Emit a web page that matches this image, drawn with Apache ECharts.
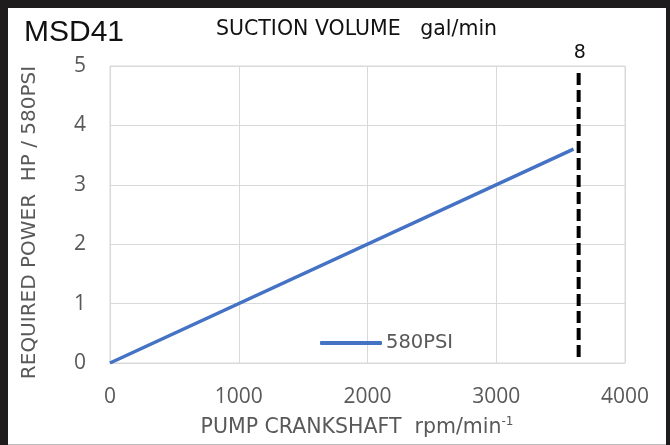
<!DOCTYPE html>
<html><head><meta charset="utf-8">
<script src="https://cdn.jsdelivr.net/npm/echarts@6/dist/echarts.min.js"></script>
<style>
html,body{margin:0;padding:0;background:#1e1c1c;}
#frame{position:absolute;left:8px;top:8px;width:658px;height:436px;background:#fff;border-bottom:1px solid #bbb;}
#c{position:absolute;left:0;top:0;width:670px;height:445px;}
</style></head>
<body><div id="frame"></div><div id="c"></div>
<script>
const rpm = [0, 3600];
const hp = [0, 3.6];
const limitRpm = [3640, 3640];
const limitHp = [0.1, 4.95];
const limitLabel = '8';
const xTicks = [0, 1000, 2000, 3000, 4000];
const yTicks = [0, 1, 2, 3, 4, 5];

const chart = echarts.init(document.getElementById('c'), null, {renderer:'canvas'});
const gray = '#595959';
const F = 'DejaVu Sans';
chart.setOption({
  backgroundColor: 'transparent',
  animation: false,
  title: [
    {text: 'MSD41', left: 19, top: 13, textStyle:{fontFamily:'Liberation Sans', fontSize:30, fontWeight:'normal', color:'#111'}},
    {text: 'SUCTION VOLUME   gal/min', left: 211, top: 14, textStyle:{fontFamily:F, fontSize:20.5, fontWeight:'normal', color:'#111'}}
  ],
  legend: {
    data: [{name:'580PSI', icon:'roundRect'}], left: 315, top: 328, itemWidth: 62, itemHeight: 4, itemGap: 4,
    textStyle:{fontFamily:F, fontSize:19.5, color:gray, padding:[0,0,0,-1]}
  },
  grid: {left:110, right:45, top:66, bottom:82, show:true, borderColor:'#d9d9d9', borderWidth:1},
  xAxis: {
    type:'value', min:xTicks[0], max:xTicks[xTicks.length-1], interval:1000,
    name: '{a|PUMP CRANKSHAFT  rpm/min}{s|-1}', nameLocation:'middle', nameGap:53,
    nameTextStyle:{padding:[0,21,0,0], rich:{a:{fontFamily:F, fontSize:20.5, color:gray}, s:{fontFamily:F, fontSize:12, color:gray, verticalAlign:'top', padding:[0,0,11,0]}}},
    axisLine:{show:true, lineStyle:{color:'#d9d9d9'}}, axisTick:{show:false},
    axisLabel:{fontFamily:'Open Sans', fontSize:21, color:gray, margin:24, formatter: v => String(v)},
    splitLine:{show:true, lineStyle:{color:'#d9d9d9', width:1}}
  },
  yAxis: {
    type:'value', min:yTicks[0], max:yTicks[yTicks.length-1], interval:1,
    name: 'REQUIRED POWER  HP / 580PSI', nameLocation:'middle', nameGap:70, nameRotate:90,
    nameTextStyle:{fontFamily:F, fontSize:20, color:gray, padding:[0,16,0,0]},
    axisLine:{show:true, lineStyle:{color:'#d9d9d9'}}, axisTick:{show:false},
    axisLabel:{fontFamily:'Open Sans', fontSize:21, color:gray, margin:24},
    splitLine:{show:true, lineStyle:{color:'#d9d9d9', width:1}}
  },
  series: [
    {name:'580PSI', type:'line', data: rpm.map((v,i)=>[v, hp[i]]), symbol:'none',
     lineStyle:{color:'#4472c4', width:3.5}, itemStyle:{color:'#4472c4'}},
    {name:'limit', type:'line', data: limitRpm.map((v,i)=>[v, limitHp[i]]), symbol:'none',
     lineStyle:{color:'#000', width:4, type:[12,5]},
     endLabel:{show:true, formatter: limitLabel, fontFamily:F, fontSize:19, color:'#111', offset:[-13,-16]}}
  ]
});
</script></body></html>
